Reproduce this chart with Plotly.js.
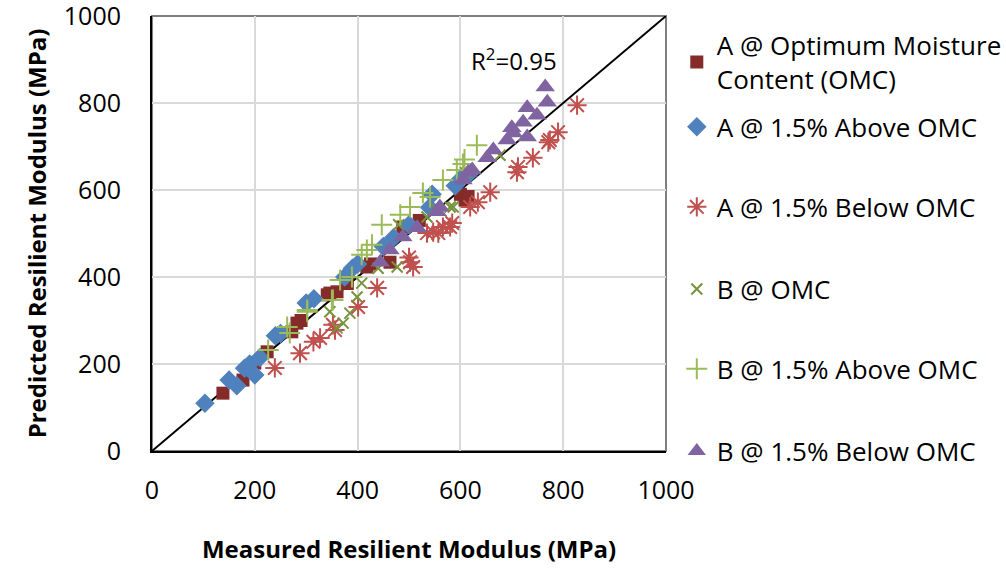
<!DOCTYPE html>
<html><head><meta charset="utf-8">
<script src="https://cdn.plot.ly/plotly-3.0.1.min.js"></script>
<style>body{margin:0;background:#fff}#c{width:1006px;height:579px}</style>
</head><body><div id="c"></div>
<script>
const seriesNames = ["A @ Optimum Moisture<br>Content (OMC)", "A @ 1.5% Above OMC", "A @ 1.5% Below OMC", "B @ OMC", "B @ 1.5% Above OMC", "B @ 1.5% Below OMC"];

const aOmcX = [138,177,200,224,272,282,290,341,346,360,380,418,425,463,488,520,600,609,615];
const aOmcY = [133,163,202,228,274,294,300,359,363,366,385,423,430,434,515,530,590,577,585];

const aAboveX = [103,150,165,180,190,200,210,240,250,300,315,375,390,400,450,470,500,540,545,590,600,620];
const aAboveY = [110,163,150,190,200,175,215,265,270,340,350,400,420,430,470,490,520,560,590,610,625,640];

const aBelowX = [239,288,314,327,352,356,401,438,502,508,500,535,547,557,566,580,584,619,634,658,710,712,741,771,774,790,827];
const aBelowY = [191,225,251,260,290,278,331,375,434,423,445,501,503,501,515,515,524,561,572,595,641,653,674,710,715,733,795];

const bOmcX = [346,360,372,385,399,408,440,477,480,535,550,580,586,610,677];
const bOmcY = [320,283,294,317,354,386,420,423,520,538,560,561,561,640,680];

const bAboveX = [226,263,268,302,302,350,352,366,389,408,418,428,447,483,502,527,541,566,593,605,632,608];
const bAboveY = [232,285,271,320,324,347,347,393,400,451,462,474,520,543,561,593,584,623,646,660,703,670];

const bBelowX = [444,463,488,516,555,560,605,615,623,652,664,691,700,703,722,730,730,749,765,769];
const bBelowY = [434,462,492,513,550,561,623,640,646,674,692,715,743,731,756,722,789,772,837,802];

const lineX = [0, 1000];
const lineY = [0, 1000];
const xTicks = [0, 200, 400, 600, 800, 1000];
const yTicks = [0, 200, 400, 600, 800, 1000];
const r2Text = "R<sup>2</sup>=0.95";

const FONT = "'Open Sans', Lato, sans-serif";
const colors = ["#852B29", "#4F81BD", "#C0504D", "#77933C", "#9BBB59", "#8064A2"];
const symbols = ["square", "diamond", "asterisk-open", "x-thin-open", "cross-thin-open", "triangle-up"];
const sizes = [13, 15, 16, 11, 15, 17];
const xs = [aOmcX, aAboveX, aBelowX, bOmcX, bAboveX, bBelowX];
const ys = [aOmcY, aAboveY, aBelowY, bOmcY, bAboveY, bBelowY];
const legendIds = ["legend", "legend2", "legend3", "legend4", "legend5", "legend6"];
const legendY = [0.894, 0.745, 0.561, 0.372, 0.189, 0.0];

const traces = [{
  x: lineX, y: lineY, mode: "lines", type: "scatter",
  line: {color: "#000", width: 2}, showlegend: false, hoverinfo: "skip"
}];
for (let i = 0; i < 6; i++) {
  traces.push({
    x: xs[i], y: ys[i], type: "scatter", mode: "markers", name: seriesNames[i],
    legend: legendIds[i],
    marker: {symbol: symbols[i], size: sizes[i], color: colors[i],
             line: {color: colors[i], width: (i === 2 || i === 3 || i === 4) ? 2 : 0}}
  });
}

const layout = {
  width: 1006, height: 579,
  margin: {l: 152, r: 340, t: 16, b: 128, autoexpand: false},
  paper_bgcolor: "#fff", plot_bgcolor: "#fff",
  font: {family: FONT, size: 24, color: "#000"},
  showlegend: true,
  xaxis: {
    range: [0, 1000], tickvals: xTicks, ticktext: xTicks.map(String),
    showgrid: true, gridcolor: "#D9D9D9", gridwidth: 2,
    showline: true, linecolor: "#000", linewidth: 2,
    ticks: "", ticklabelstandoff: 16, zeroline: false, ticklabeloverflow: "allow",
    tickfont: {family: FONT, size: 25},
    title: {text: "<b>Measured Resilient Modulus (MPa)</b>", font: {family: FONT, size: 24}, standoff: 36}
  },
  yaxis: {
    range: [0, 1000], tickvals: yTicks, ticktext: yTicks.map(String),
    showgrid: true, gridcolor: "#D9D9D9", gridwidth: 2,
    showline: true, linecolor: "#000", linewidth: 2,
    ticks: "", ticklabelstandoff: 24, zeroline: false, ticklabeloverflow: "allow",
    tickfont: {family: FONT, size: 25},
    title: {text: "<b>Predicted Resilient Modulus (MPa)</b>", font: {family: FONT, size: 24}, standoff: 10}
  },
  shapes: [{type: "rect", xref: "paper", yref: "paper", x0: 0, x1: 1, y0: 0, y1: 1,
            line: {color: "#7F7F7F", width: 2}, layer: "below"}],
  annotations: [{x: 705, y: 899, xref: "x", yref: "y", text: r2Text, showarrow: false,
                 font: {family: FONT, size: 24, color: "#000"}}]
};
for (let i = 0; i < 6; i++) {
  layout[legendIds[i]] = {x: 1.021, xanchor: "left", y: legendY[i], yanchor: "middle",
    bgcolor: "rgba(0,0,0,0)", font: {family: FONT, size: 26, color: "#000"}, itemwidth: 30};
}
Plotly.newPlot("c", traces, layout, {displayModeBar: false, staticPlot: true});
</script></body></html>
